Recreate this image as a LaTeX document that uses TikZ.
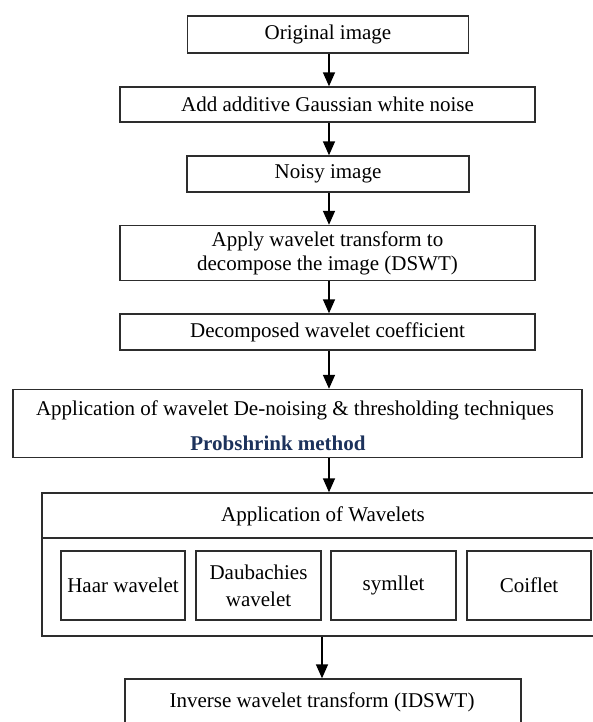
\documentclass[tikz,border=0pt]{standalone}
\usepackage{fontspec}
\setmainfont{Liberation Serif}
\usetikzlibrary{arrows.meta,calc}
\definecolor{boxline}{RGB}{45,45,45}
\definecolor{methodblue}{RGB}{28,50,92}
\tikzset{
  stepbox/.style={draw=boxline, line width=1.4pt, fill=white, rectangle, inner sep=0pt,
    align=center, font=\fontsize{21}{24}\selectfont},
  flow/.style={draw=black, line width=1.6pt, -{Triangle[length=14pt,width=12pt]}},
  label/.style={inner sep=0pt, font=\fontsize{21}{24}\selectfont}
}
\begin{document}
\begin{tikzpicture}[x=1pt,y=-1pt]
\useasboundingbox (0,0) rectangle (593,722);
\fill[white] (0,0) rectangle (593,722);
\clip (0,0) rectangle (593,722);

% vertical axes used by the connectors
\coordinate (axis) at (329,0);
\coordinate (axislow) at (322,0);

% main chain of processing steps
\node[stepbox, minimum width=281pt, minimum height=37pt] (orig) at (328,34.5) {Original image};
\node[stepbox, minimum width=415pt, minimum height=35pt] (noise) at (327.5,104.5) {Add additive Gaussian white noise};
\node[stepbox, minimum width=282pt, minimum height=36pt] (noisy) at (328,174) {Noisy image};
\node[stepbox, minimum width=415pt, minimum height=55pt] (dswt) at (327.5,253) {Apply wavelet transform to\\decompose the image (DSWT)};
\node[stepbox, minimum width=415pt, minimum height=36pt] (coef) at (327.5,332) {Decomposed wavelet coefficient};

% de-noising box with the method name below
\node[stepbox, minimum width=569pt, minimum height=68pt] (denoise) at (297.5,423.5) {};
\node[label] (denoisetxt) at (295,410) {Application of wavelet De-noising \& thresholding techniques};
\node[label, font=\fontsize{21}{24}\selectfont\bfseries, text=methodblue] (method) at (278,443) {Probshrink method};

% wavelet families
\node[stepbox, minimum width=563pt, minimum height=143pt] (wav) at (323.5,564.5) {};
\coordinate (divL) at (42,538);
\coordinate (divR) at (605,538);
\draw[draw=boxline, line width=1.4pt] (divL) -- (divR);
\node[label] (wavtitle) at (323,516) {Application of Wavelets};
\node[stepbox, minimum width=124pt, minimum height=69pt] (haar) at (123,585.5) {Haar wavelet};
\node[stepbox, minimum width=125pt, minimum height=69pt, font=\fontsize{21}{27}\selectfont] (db) at (258.5,585.5) {Daubachies\\wavelet};
\node[stepbox, minimum width=125pt, minimum height=69pt] (sym) at (393.5,585.5) {symllet};
\node[stepbox, minimum width=124pt, minimum height=69pt] (coif) at (529,585.5) {Coiflet};

% reconstruction
\node[stepbox, minimum width=396pt, minimum height=60pt] (idswt) at (323,709) {};
\node[label] (idswttxt) at (322,702) {Inverse wavelet transform (IDSWT)};

% connectors
\draw[flow] (orig.south -| axis) -- (noise.north -| axis);
\draw[flow] (noise.south -| axis) -- (noisy.north -| axis);
\draw[flow] (noisy.south -| axis) -- (dswt.north -| axis);
\draw[flow] (dswt.south -| axis) -- (coef.north -| axis);
\draw[flow] (coef.south -| axis) -- (denoise.north -| axis);
\draw[flow] (denoise.south -| axis) -- (wav.north -| axis);
\draw[flow] (wav.south -| axislow) -- (idswt.north -| axislow);
\end{tikzpicture}
\end{document}
